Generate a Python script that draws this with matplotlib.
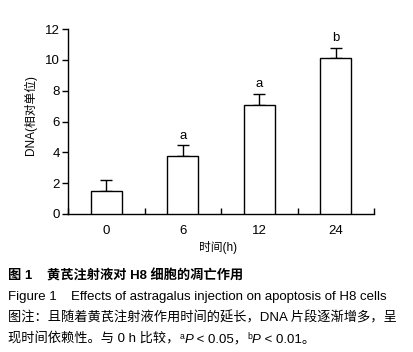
import matplotlib
matplotlib.use('Agg')
import matplotlib.pyplot as plt
import numpy as np

plt.rcParams['font.family'] = ['Liberation Sans', 'Noto Sans CJK SC', 'DejaVu Sans']

# 数据
times = ['0', '6', '12', '24']
dna = [1.5, 3.75, 7.1, 10.1]
err = [0.7, 0.72, 0.7, 0.7]
marks = ['', 'a', 'a', 'b']

W, H = 413, 352
fig = plt.figure(figsize=(W / 100, H / 100), dpi=100)
ax = fig.add_axes([68 / W, 1 - 214 / H, (374 - 68) / W, (214 - 29) / H])

x = np.arange(len(times))
ax.bar(x, dna, width=0.4, color='white', edgecolor='black', linewidth=1.0, zorder=3)
ax.errorbar(x, dna, yerr=[np.zeros(len(err)), err], fmt='none', ecolor='black',
            elinewidth=1.0, capsize=4.3, capthick=1.0, zorder=2)
for xi, yi, ei, m in zip(x, dna, err, marks):
    if m:
        ax.text(xi, yi + ei + 0.22, m, ha='center', va='bottom', fontsize=9.5)

ax.set_xlim(-0.5, 3.5)
ax.set_ylim(0, 12)
ax.set_yticks(np.arange(0, 13, 2))
ax.set_xticks(x)
ax.set_xticklabels(times)
ax.set_xticks(np.arange(-0.5, 4, 1), minor=True)
ax.tick_params(axis='x', which='major', length=0, pad=8, labelsize=9.5)
ax.tick_params(axis='x', which='minor', direction='in', length=4, width=1.0)
ax.tick_params(axis='y', direction='out', length=4, width=1.0, pad=2, labelsize=9.5)
for s in ['top', 'right']:
    ax.spines[s].set_visible(False)
for s in ['left', 'bottom']:
    ax.spines[s].set_linewidth(1.0)

fig.text(30 / W, 1 - 115 / H, 'DNA(相对单位)', rotation=90, ha='center', va='center', fontsize=8.5)
fig.text(218 / W, 1 - 247 / H, '时间(h)', ha='center', va='center', fontsize=8.5)

# 图题
cs = 9.5
fig.text(8 / W, 1 - 276 / H, '图 1', fontsize=cs, fontweight='bold', va='center')
fig.text(47 / W, 1 - 276 / H, '黄芪注射液对 H8 细胞的凋亡作用', fontsize=cs, fontweight='bold', va='center')
fig.text(8 / W, 1 - 297 / H, 'Figure 1', fontsize=cs, va='center')
fig.text(71 / W, 1 - 297 / H, 'Effects of astragalus injection on apoptosis of H8 cells', fontsize=cs, va='center')
fig.text(8 / W, 1 - 318 / H, '图注：且随着黄芪注射液作用时间的延长，DNA 片段逐渐增多，呈', fontsize=cs, va='center')

# 第四行，分段拼接（上标与斜体）
r = fig.canvas.get_renderer()
pieces = [('现时间依赖性。与 0 h 比较，', cs, 'normal', 0),
          ('a', cs * 0.65, 'normal', 4),
          ('P', cs, 'italic', 0),
          (' < 0.05，', cs, 'normal', 0),
          ('b', cs * 0.65, 'normal', 4),
          ('P', cs, 'italic', 0),
          (' < 0.01。', cs, 'normal', 0)]
xp = 8
base = H - 343
for txt, fs, st, dy in pieces:
    t = fig.text(xp / W, (base + dy) / H, txt, fontsize=fs, style=st, va='baseline')
    xp += t.get_window_extent(renderer=r).width

fig.savefig('out.png', dpi=100)
